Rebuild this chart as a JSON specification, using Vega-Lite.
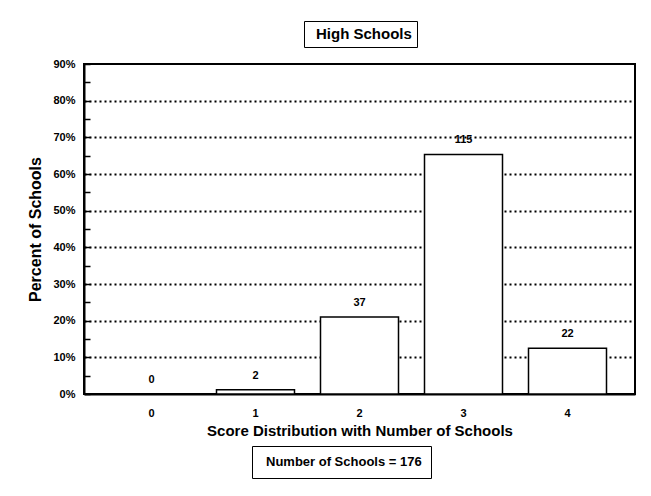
{
  "$schema": "https://vega.github.io/schema/vega-lite/v6.json",
  "width": 551,
  "height": 330,
  "autosize": {"type": "none"},
  "padding": {"left": 84, "top": 64, "right": 16, "bottom": 102},
  "background": "white",
  "config": {
    "font": "Liberation Sans",
    "view": {"stroke": "black", "strokeWidth": 2},
    "axis": {"labelColor": "black", "titleColor": "black", "labelFont": "Liberation Sans", "titleFont": "Liberation Sans"}
  },
  "data": {
    "values": [
      {"score": "0", "count": 0, "percent": 0.0, "chart": "High Schools", "total": "Number of Schools = 176"},
      {"score": "1", "count": 2, "percent": 0.0114, "chart": "High Schools", "total": "Number of Schools = 176"},
      {"score": "2", "count": 37, "percent": 0.2102, "chart": "High Schools", "total": "Number of Schools = 176"},
      {"score": "3", "count": 115, "percent": 0.6534, "chart": "High Schools", "total": "Number of Schools = 176"},
      {"score": "4", "count": 22, "percent": 0.125, "chart": "High Schools", "total": "Number of Schools = 176"}
    ]
  },
  "encoding": {
    "x": {
      "field": "score",
      "type": "ordinal",
      "scale": {"paddingInner": 0.25, "paddingOuter": 0.274},
      "axis": {
        "labelAngle": 0,
        "ticks": false,
        "domainColor": "black",
        "domainWidth": 2,
        "labelFontSize": 11,
        "labelFontWeight": "bold",
        "labelPadding": 13,
        "title": "Score Distribution with Number of Schools",
        "titleFontSize": 15,
        "titleFontWeight": "bold",
        "titlePadding": 5
      }
    },
    "y": {
      "field": "percent",
      "type": "quantitative",
      "scale": {"domain": [0, 0.9], "nice": false},
      "axis": {
        "values": [0, 0.05, 0.1, 0.15, 0.2, 0.25, 0.3, 0.35, 0.4, 0.45, 0.5, 0.55, 0.6, 0.65, 0.7, 0.75, 0.8, 0.85, 0.9],
        "labelExpr": "round(datum.value*100) % 10 == 0 ? round(datum.value*100) + '%' : ''",
        "tickSize": -6,
        "tickColor": "black",
        "tickWidth": 1.5,
        "domainColor": "black",
        "domainWidth": 2,
        "labelFontSize": 11,
        "labelFontWeight": "bold",
        "labelPadding": 15,
        "title": "Percent of Schools",
        "titleFontSize": 16,
        "titleFontWeight": "bold",
        "titlePadding": 9,
        "grid": true,
        "gridColor": "black",
        "gridDash": [2, 3],
        "gridWidth": 2,
        "gridOpacity": {"condition": {"test": "round(datum.value*100) % 10 == 0 && datum.value > 0.01 && datum.value < 0.85", "value": 1}, "value": 0}
      }
    }
  },
  "layer": [
    {
      "mark": {"type": "bar", "strokeWidth": 1.5, "fillOpacity": 1},
      "encoding": {
        "color": {
          "field": "chart",
          "type": "nominal",
          "scale": {"range": ["white"]},
          "legend": {
            "title": null,
            "orient": "none",
            "legendX": 220,
            "legendY": -43,
            "strokeColor": "black",
            "padding": 5,
            "symbolSize": 0,
            "symbolOpacity": 0,
            "symbolStrokeWidth": 0,
            "labelOffset": -8,
            "labelFont": "Liberation Sans",
            "labelFontSize": 15,
            "labelFontWeight": "bold",
            "labelColor": "black"
          }
        },
        "stroke": {
          "field": "total",
          "type": "nominal",
          "scale": {"range": ["black"]},
          "legend": {
            "title": null,
            "orient": "none",
            "legendX": 168,
            "legendY": 382,
            "strokeColor": "black",
            "padding": 9,
            "symbolSize": 0,
            "symbolOpacity": 0,
            "symbolStrokeWidth": 0,
            "labelOffset": -8,
            "labelFont": "Liberation Sans",
            "labelFontSize": 13,
            "labelFontWeight": "bold",
            "labelColor": "black"
          }
        }
      }
    },
    {
      "mark": {"type": "text", "dy": -14, "fontWeight": "bold", "fontSize": 11, "color": "black", "font": "Liberation Sans"},
      "encoding": {
        "text": {"field": "count", "type": "quantitative"}
      }
    }
  ]
}
